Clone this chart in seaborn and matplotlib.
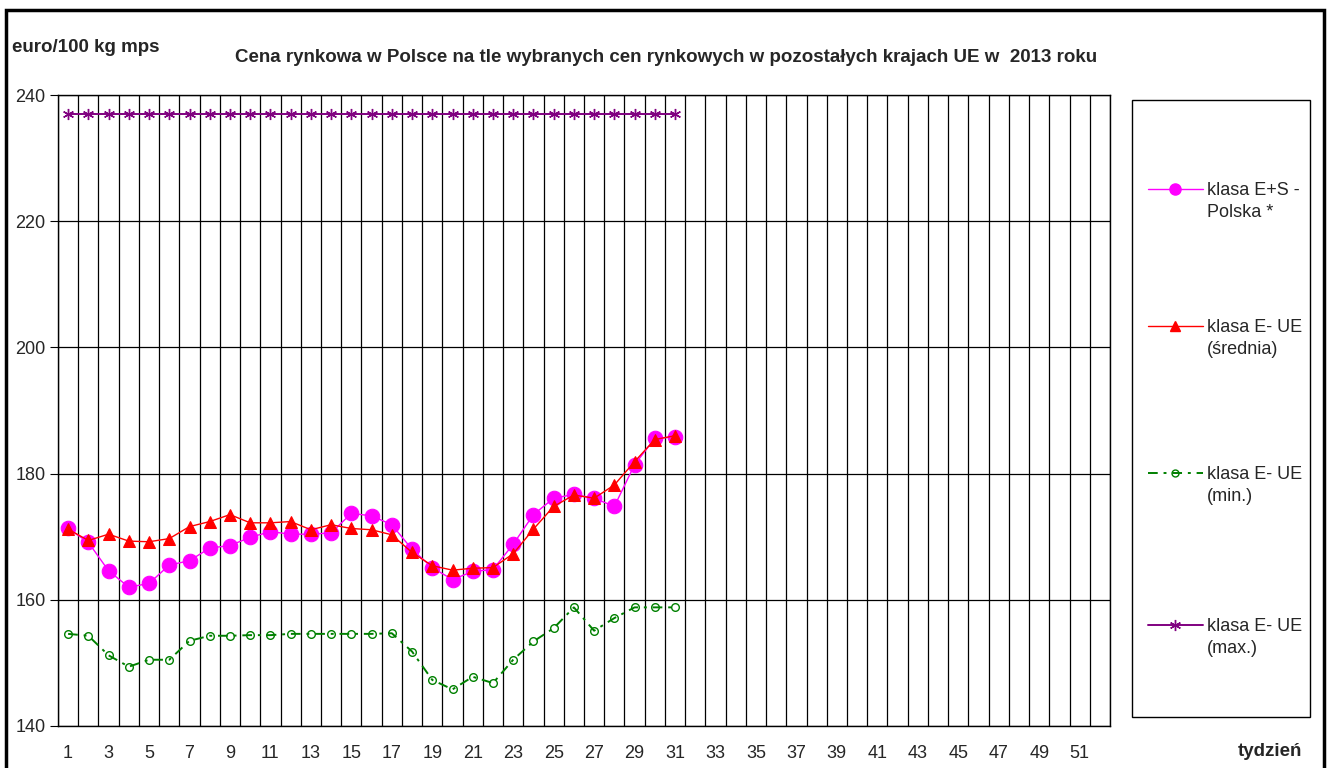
import numpy as np
import pandas as pd
import matplotlib.pyplot as plt
import seaborn as sns
from matplotlib.patches import Rectangle
from matplotlib.lines import Line2D

# weekly prices, euro/100 kg, 2013 (weeks 1-31)
weeks = list(range(1, 32))
polska = [171.3, 169.1, 164.6, 162.0, 162.6, 165.5, 166.2, 168.2, 168.6, 169.9,
          170.8, 170.4, 170.4, 170.6, 173.7, 173.3, 171.9, 168.0, 165.1, 163.2,
          164.5, 164.8, 168.8, 173.5, 176.1, 176.7, 176.1, 174.8, 181.4, 185.6, 185.8]
ue_srednia = [171.2, 169.4, 170.4, 169.3, 169.2, 169.7, 171.6, 172.4, 173.5, 172.2,
              172.2, 172.4, 171.1, 171.9, 171.3, 171.1, 170.3, 167.5, 165.4, 164.7,
              165.0, 165.1, 167.3, 171.2, 174.8, 176.6, 176.1, 178.2, 181.9, 185.4, 186.0]
ue_min = [154.6, 154.3, 151.2, 149.4, 150.5, 150.5, 153.5, 154.3, 154.3, 154.4,
          154.4, 154.6, 154.6, 154.6, 154.6, 154.6, 154.7, 151.8, 147.3, 145.8,
          147.8, 146.8, 150.5, 153.4, 155.5, 158.8, 155.1, 157.1, 158.8, 158.8, 158.8]
ue_max = [237.0] * 31

labels = ['klasa E+S -\nPolska *', 'klasa E- UE\n(średnia)',
          'klasa E- UE\n(min.)', 'klasa E- UE\n(max.)']
xtick_weeks = list(range(1, 53, 2))
yticks = [140, 160, 180, 200, 220, 240]

df = pd.DataFrame({'tydzien': weeks, 'polska': polska, 'srednia': ue_srednia,
                   'min': ue_min, 'max': ue_max})

sns.set_style('white')
plt.rcParams['font.family'] = ['Liberation Sans', 'DejaVu Sans']

W, H = 1332, 768
fig = plt.figure(figsize=(W / 100, H / 100), dpi=100)
ax = fig.add_axes([58 / W, 1 - 726 / H, (1110 - 58) / W, (726 - 95) / H])

# grid: a vertical line between every week, horizontal every 20
for b in np.arange(0.5, 53, 1):
    ax.axvline(b, color='black', lw=0.9, zorder=1)
for yv in yticks:
    ax.axhline(yv, color='black', lw=0.9, zorder=1)

sns.lineplot(data=df, x='tydzien', y='polska', ax=ax, color='#FF00FF', lw=1.0,
             marker='o', markersize=10.5, markeredgecolor='#FF00FF', zorder=4)
sns.lineplot(data=df, x='tydzien', y='srednia', ax=ax, color='#FF0000', lw=1.0,
             marker='^', markersize=8, markeredgecolor='#FF0000', zorder=5)
sns.lineplot(data=df, x='tydzien', y='min', ax=ax, color='#008000', lw=1.4,
             marker='o', markersize=5.5, markerfacecolor='none', markeredgecolor='#008000',
             markeredgewidth=1.0, dashes=(5, 3, 1.5, 3), zorder=3)
sns.lineplot(data=df, x='tydzien', y='max', ax=ax, color='#800080', lw=1.4,
             marker=(6, 2, 0), markersize=8, markeredgecolor='#800080',
             markeredgewidth=1.0, zorder=3)

ax.set_xlim(0.5, 52.5)
ax.set_ylim(140, 240)
ax.set_xticks(xtick_weeks)
ax.set_xticklabels([str(w) for w in xtick_weeks], fontsize=13)
ax.set_xticks(np.arange(0.5, 53, 1), minor=True)
ax.tick_params(axis='x', which='major', length=0, pad=14)
ax.tick_params(axis='x', which='minor', length=7, direction='inout', color='black')
ax.set_yticks(yticks)
ax.set_yticklabels([str(v) for v in yticks], fontsize=13)
ax.tick_params(axis='y', length=6, direction='out', color='black', left=True, pad=3)
ax.set_xlabel('')
ax.set_ylabel('')
for s in ax.spines.values():
    s.set_color('black')
    s.set_linewidth(1.0)

fig.text(12 / W, 1 - 47 / H, 'euro/100 kg mps', fontsize=13.5, fontweight='bold',
         va='center', ha='left')
fig.text(666 / W, 1 - 58 / H,
         'Cena rynkowa w Polsce na tle wybranych cen rynkowych w pozostałych krajach UE w  2013 roku',
         fontsize=13.5, fontweight='bold', va='center', ha='center')
fig.text(1270 / W, 1 - 752 / H, 'tydzień', fontsize=13.5, fontweight='bold',
         va='center', ha='center')

# legend: box with four entries, marker on the first text line
fig.patches.append(Rectangle((1132 / W, 1 - 717 / H), (1310 - 1132) / W, (717 - 100) / H,
                             transform=fig.transFigure, fill=False, edgecolor='black', lw=1.0))
entry_y = [189, 326, 473, 625]
handle_styles = [
    dict(color='#FF00FF', lw=1.0, marker='o', markersize=8),
    dict(color='#FF0000', lw=1.0, marker='^', markersize=7),
    dict(color='#008000', lw=1.4, marker='o', markersize=5, markerfacecolor='none',
         dashes=(5, 3, 1.5, 3)),
    dict(color='#800080', lw=1.4, marker=(6, 2, 0), markersize=8),
]
for yy, st, lab in zip(entry_y, handle_styles, labels):
    fy = 1 - yy / H
    fig.add_artist(Line2D([1148 / W, 1175 / W, 1203 / W], [fy, fy, fy],
                          transform=fig.transFigure, markevery=[1], **st))
    fig.text(1207 / W, fy + 7 / H, lab, fontsize=13, va='top', ha='left',
             linespacing=1.4)

# outer frame (open at the bottom as in the source)
fig.patches.append(Rectangle((6 / W, -0.05), (1324 - 6) / W, 1.05 - 10 / H,
                             transform=fig.transFigure, fill=False, edgecolor='black', lw=2.5))

fig.savefig('out.png', dpi=100)
